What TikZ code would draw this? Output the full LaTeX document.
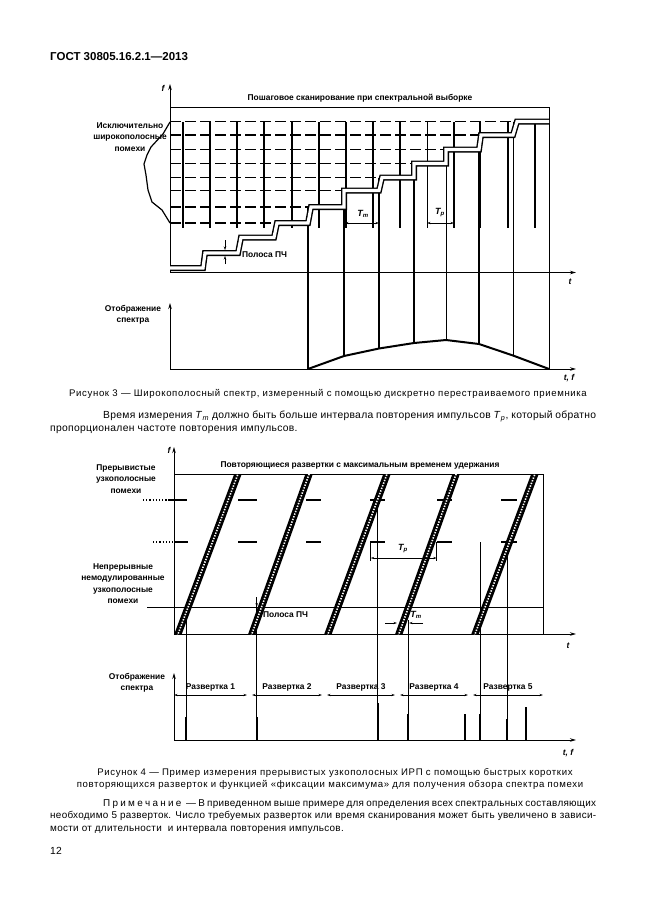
\documentclass[tikz,border=0pt]{standalone}
\usepackage{fontspec}
\setmainfont{Liberation Sans}
\newfontfamily\capfont[LetterSpace=6.5]{Liberation Sans}
\newfontfamily\bodyfont[LetterSpace=3]{Liberation Sans}
\usetikzlibrary{arrows.meta}

\begin{document}
\begin{tikzpicture}[x=1pt, y=-1pt,
  lbl/.style={font=\fontsize{8.4}{11.5}\selectfont\bfseries, inner sep=0pt, align=center},
  ital/.style={lbl, font=\fontsize{8.5}{9}\selectfont\bfseries\itshape},
  body/.style={font=\bodyfont\fontsize{10.3}{13}\selectfont, inner sep=0pt, anchor=base west},
  note/.style={body, font=\bodyfont\fontsize{9.9}{12}\selectfont},
  capt/.style={font=\capfont\fontsize{9.6}{12}\selectfont, inner sep=0pt, anchor=base},
  ax/.style={line width=0.9pt, -{Stealth[length=6pt,width=3.5pt]}},
  dim/.style={line width=0.6pt, {Stealth[length=3.5pt,width=2.2pt]}-{Stealth[length=3.5pt,width=2.2pt]}},
  gridv/.style={line width=1.3pt},
  hdash/.style={line width=1.2pt, dash pattern=on 11pt off 4pt},
  band/.style={line width=1.4pt, double distance=3.2pt},
  sweep/.style={line width=7pt},
  sweepdots/.style={line width=1.6pt, white, dash pattern=on 1.4pt off 1.4pt},
  >={Stealth[]}]
\fill[white] (0,0) rectangle (646,913);
\useasboundingbox (0,0) rectangle (646,913);

\node[font=\fontsize{11.5}{13}\selectfont\bfseries, inner sep=0pt, anchor=base west] (hdr) at (50,60) {ГОСТ 30805.16.2.1—2013};

% ---- Figure 3
\coordinate (o3) at (170,272.5);
\coordinate (d3) at (170,369);
\draw[ax] (o3) -- (170,84);
\draw[ax] (o3) -- (576,272.5);
\draw[ax] (d3) -- (170,303);
\draw[ax] (d3) -- (576,369);
\node[ital] (f3) at (163,88) {f};
\node[ital] (t3) at (570,282) {t};
\node[ital] (tf3) at (569,378) {t, f};
\draw[line width=0.9pt] (170,107) -- (549,107) -- (549,369);
\node[lbl] (ttl3) at (360,98) {Пошаговое сканирование при спектральной выборке};
\node[lbl] (wide) at (130,137) {Исключительно\\широкополосные\\помехи};
\node[lbl] (disp3) at (133,315) {Отображение\\спектра};

% grid
\foreach \y/\xe in {223/274, 207/308, 190.5/344, 177.5/379, 163.5/414, 149.5/446, 135/479, 121.5/513}
  \draw[hdash] (170,\y) -- (\xe,\y);
\foreach \x in {183,210,237,264,292,319,346,373,400,454,480,508,535}
  \draw[gridv] (\x,122) -- (\x,228);
\draw[line width=0.7pt] (427,122) -- (427,228);

% envelope of the broadband noise
\draw[line width=1.2pt] (170,122) -- (163,134) -- (151,147) -- (147,155) -- (144,164) -- (146,175)
  -- (148,190) -- (152,202) -- (162,210) -- (170,223);

% scan times
\foreach \x/\ya/\yb in {308/207/369, 344/190.5/356, 379/177.5/348.5, 414/163.5/343, 479/135/344}
  \draw[line width=1.5pt] (\x,\ya) -- (\x,\yb);
\foreach \x/\ya/\yb in {446/149.5/340, 513/121.5/355.5}
  \draw[line width=0.8pt] (\x,\ya) -- (\x,\yb);

% receiver steps
\draw[band] (170,268) -- (203,268) -- (205,253) -- (238,253) -- (241,237.5) -- (274,237.5)
  -- (277,223) -- (308,223) -- (311,207) -- (344,207) -- (344,190.5) -- (379,190.5)
  -- (382,177.5) -- (414,177.5) -- (414,163.5) -- (446,163.5) -- (446,149.5) -- (479,149.5)
  -- (481,135) -- (513,135) -- (517,121.5) -- (549,121.5);

\draw[line width=2pt] (308,369) -- (344,356) -- (379,348.5) -- (414,343) -- (446,340)
  -- (479,344) -- (513,355.5) -- (549,369);

% IF band
\draw[line width=0.7pt, -{Stealth[length=4pt,width=2.5pt]}] (225,240) -- (225,250.3);
\draw[line width=0.7pt, -{Stealth[length=4pt,width=2.5pt]}] (225,264) -- (225,255.7);
\node[lbl, anchor=west] (if3) at (242,254.5) {Полоса ПЧ};

\draw[dim] (345,223) -- (379,223);
\node[ital, font=\fontsize{9}{10}\selectfont\bfseries\itshape] (tm3) at (363,214) {T\textsubscript{m}};
\draw[dim] (427,223) -- (454,223);
\node[ital, font=\fontsize{9}{10}\selectfont\bfseries\itshape] (tp3) at (440,213) {T\textsubscript{p}};

\node[capt] (cap3) at (328,396.5) {Рисунок 3 — Широкополосный спектр, измеренный с помощью дискретно перестраиваемого приемника};

\node[body] (p1) at (103,418.5) {\makebox[493pt][s]{Время измерения \textit{T}\textsubscript{\textit{m}} должно быть больше интервала повторения импульсов \textit{T}\textsubscript{\textit{p}}, который обратно}};
\node[body] (p2) at (50,431.5) {пропорционален частоте повторения импульсов.};

% ---- Figure 4
\coordinate (o4) at (174,634);
\coordinate (d4) at (174,740);
\draw[ax] (o4) -- (174,447);
\draw[ax] (o4) -- (576,634);
\draw[ax] (d4) -- (174,673);
\draw[ax] (d4) -- (576,740);
\node[ital] (f4) at (169,450) {f};
\node[ital] (t4) at (568,646) {t};
\node[ital] (tf4) at (568,753) {t, f};
\draw[line width=0.9pt] (174,474) -- (543,474) -- (543,634);
\node[lbl] (ttl4) at (360,465) {Повторяющиеся развертки с максимальным временем удержания};
\node[lbl] (burst) at (126,479) {Прерывистые\\узкополосные\\помехи};
\node[lbl] (cw) at (123,583.5) {Непрерывные\\немодулированные\\узкополосные\\помехи};
\node[lbl] (disp4) at (137,683) {Отображение\\спектра};

\draw[line width=1.6pt] (147,607.5) -- (543,607.5);

% bursts
\draw[line width=1.2pt, dotted] (143,500) -- (168,500);
\draw[line width=1.2pt, dotted] (153,542) -- (174,542);
\foreach \xa/\xb in {168/187, 238/257, 306/321, 370/385, 437/452, 501/517}
  \draw[line width=2pt] (\xa,500) -- (\xb,500);
\foreach \xa/\xb in {174/188, 238/257, 306/321, 370/385, 437/452, 501/517}
  \draw[line width=2pt] (\xa,542) -- (\xb,542);

% captured signals
\draw[line width=0.9pt] (186,607.5) -- (186,740);
\draw[line width=0.9pt] (256.7,597) -- (256.7,740);
\draw[line width=0.9pt] (377.5,500) -- (377.5,740);
\draw[line width=0.9pt] (408.3,620) -- (408.3,740);
\draw[line width=0.9pt] (480,542) -- (480,740);
\draw[line width=0.9pt] (507,542) -- (507,740);
\foreach \x/\y in {186/717, 256.7/717, 377.5/703, 408.3/714, 465/714, 480/714, 507/719, 526/707}
  \draw[line width=2pt] (\x,\y) -- (\x,740);

% sweeps
\begin{scope}
\clip (170,474) rectangle (547,634);
\foreach \b/\t in {178/238, 252/309, 328/387, 399/456, 475/535} {
  \draw[sweep] (\b-3.7,644) -- (\t+3.7,464);
  \draw[sweepdots] (\b-3.7,644) -- (\t+3.7,464);
}
\end{scope}

% IF band and times
\draw[line width=0.7pt, -{Stealth[length=4pt,width=2.5pt]}] (256.7,597) -- (256.7,607);
\node[lbl, anchor=west] (if4) at (263,615) {Полоса ПЧ};
\draw[line width=0.7pt] (370.7,542) -- (370.7,561);
\draw[line width=0.7pt] (436.7,542) -- (436.7,561);
\draw[dim] (370.7,558) -- (436.7,558);
\node[ital, font=\fontsize{9}{10}\selectfont\bfseries\itshape] (tp4) at (403,549) {T\textsubscript{p}};
\draw[line width=0.7pt, -{Stealth[length=3.5pt,width=2.2pt]}] (385,623) -- (397,623);
\draw[line width=0.7pt, -{Stealth[length=3.5pt,width=2.2pt]}] (423,623) -- (409,623);
\node[ital, font=\fontsize{9}{10}\selectfont\bfseries\itshape] (tm4) at (416,615) {T\textsubscript{m}};

% sweep spans
\foreach \xa/\xb/\n in {174/247/1, 252/322/2, 327/395/3, 400/468/4, 473/543/5} {
  \draw[dim] (\xa,695) -- (\xb,695);
  \node[lbl] (sw\n) at ({(\xa+\xb)/2},687) {Развертка \n};
}

\node[capt] (cap4a) at (335,775.5) {Рисунок 4 — Пример измерения прерывистых узкополосных ИРП с помощью быстрых коротких};
\node[capt] (cap4b) at (330,787.5) {повторяющихся разверток и функцией «фиксации максимума» для получения обзора спектра помехи};

\node[note] (n1) at (103,806.5) {\makebox[493pt][s]{П р и м е ч а н и е \ — В приведенном выше примере для определения всех спектральных составляющих}};
\node[note] (n2) at (50,818.5) {\makebox[546pt][s]{необходимо 5 разверток. Число требуемых разверток или время сканирования может быть увеличено в зависи-}};
\node[note] (n3) at (50,831) {мости от длительности \ и интервала повторения импульсов.};
\node[body] (pg) at (50,854.5) {12};
\end{tikzpicture}
\end{document}
